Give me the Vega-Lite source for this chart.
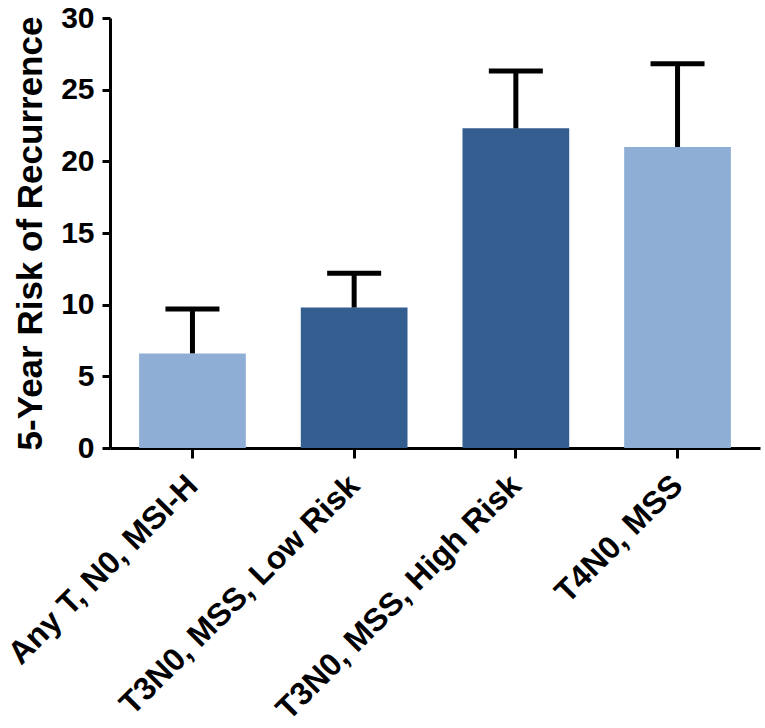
{
  "$schema": "https://vega.github.io/schema/vega-lite/v6.json",
  "width": 650,
  "height": 430,
  "autosize": {"type": "none"},
  "padding": {"left": 110, "top": 18, "right": 5, "bottom": 280},
  "background": "white",
  "config": {
    "view": {"stroke": null},
    "font": "Liberation Sans"
  },
  "data": {
    "values": [
      {"group": "Any T, N0, MSI-H", "value": 6.6, "upper": 9.7, "shade": "light"},
      {"group": "T3N0, MSS, Low Risk", "value": 9.8, "upper": 12.2, "shade": "dark"},
      {"group": "T3N0, MSS, High Risk", "value": 22.3, "upper": 26.3, "shade": "dark"},
      {"group": "T4N0, MSS", "value": 21.0, "upper": 26.8, "shade": "light"}
    ]
  },
  "encoding": {
    "x": {
      "field": "group",
      "type": "nominal",
      "sort": null,
      "scale": {"paddingInner": 0.34, "paddingOuter": 0.18},
      "axis": {
        "title": null,
        "labelAngle": -45,
        "labelAlign": "right",
        "labelBaseline": "middle",
        "labelFont": "Liberation Sans",
        "labelFontWeight": "bold",
        "labelFontSize": 32,
        "labelColor": "black",
        "labelLimit": 0,
        "labelPadding": 22,
        "labelDx": -3,
        "labelOverlap": false,
        "domainColor": "black",
        "domainWidth": 3,
        "tickColor": "black",
        "tickWidth": 3,
        "tickSize": 10,
        "grid": false
      }
    }
  },
  "layer": [
    {
      "mark": {"type": "bar"},
      "encoding": {
        "y": {
          "field": "value",
          "type": "quantitative",
          "scale": {"domain": [0, 30], "nice": false},
          "axis": {
            "title": "5-Year Risk of Recurrence",
            "titleFont": "Liberation Sans",
            "titleFontWeight": "bold",
            "titleFontSize": 35,
            "titleColor": "black",
            "titlePadding": 12,
            "values": [0, 5, 10, 15, 20, 25, 30],
            "labelFont": "Liberation Sans",
            "labelFontWeight": "bold",
            "labelFontSize": 30,
            "labelColor": "black",
            "labelPadding": 8,
            "labelOverlap": false,
            "domainColor": "black",
            "domainWidth": 3,
            "tickColor": "black",
            "tickWidth": 3,
            "tickSize": 8,
            "grid": false
          }
        },
        "color": {
          "field": "shade",
          "type": "nominal",
          "scale": {"domain": ["light", "dark"], "range": ["#8FAED6", "#355E90"]},
          "legend": null
        }
      }
    },
    {
      "mark": {"type": "rule", "color": "black", "strokeWidth": 5},
      "encoding": {
        "y": {"field": "value", "type": "quantitative"},
        "y2": {"field": "upper"}
      }
    },
    {
      "mark": {"type": "tick", "color": "black", "opacity": 1, "thickness": 5, "size": 54, "orient": "horizontal"},
      "encoding": {
        "y": {"field": "upper", "type": "quantitative"}
      }
    }
  ]
}
